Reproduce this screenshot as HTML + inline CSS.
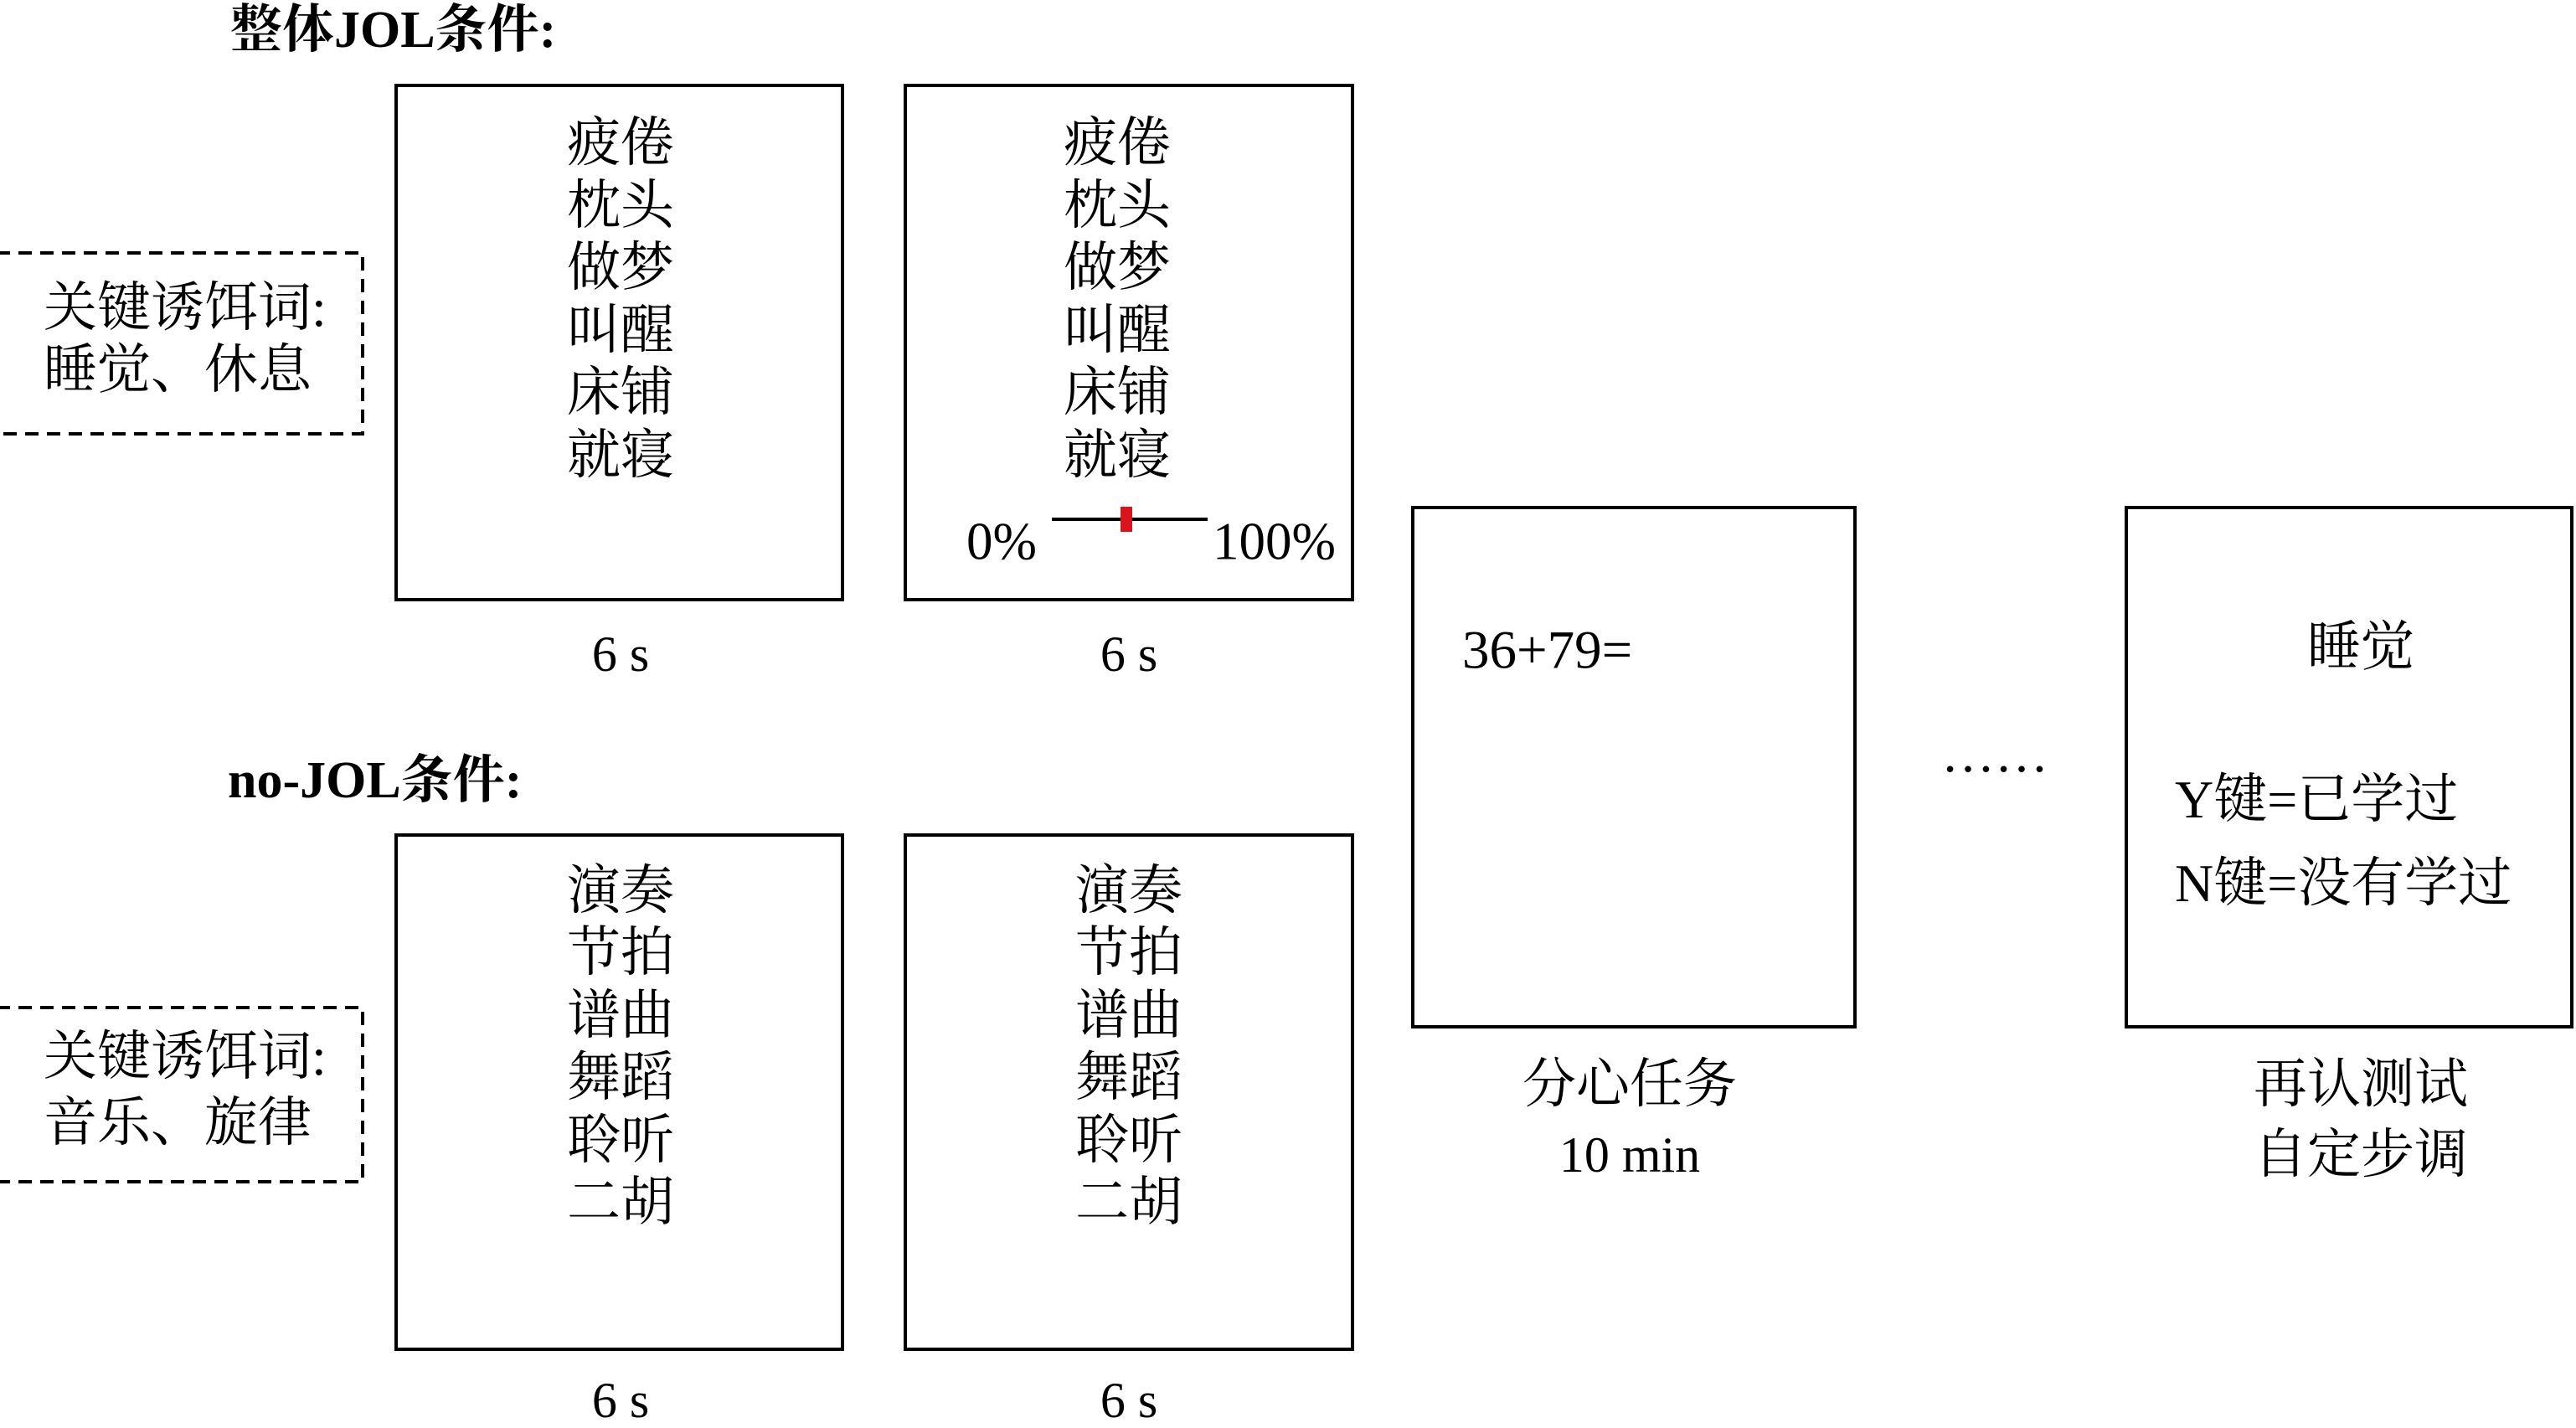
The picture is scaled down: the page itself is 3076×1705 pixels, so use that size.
<!DOCTYPE html>
<html><head><meta charset="utf-8"><style>
body{margin:0;width:3076px;height:1697px;background:#fff;position:relative;overflow:hidden;font-family:"Liberation Serif","Noto Serif CJK SC",serif;color:#000}
.b{position:absolute;border:4px solid #000;box-sizing:border-box}
.t{position:absolute;font-size:64px;line-height:1;white-space:nowrap;transform:translate(-50%,-50%)}
.l{position:absolute;font-size:64px;line-height:1;white-space:nowrap;transform:translateY(-50%)}
</style></head><body>
<div class="l" style="left:275px;top:36px;font-weight:bold;font-size:62px">整体JOL条件:</div>
<div class="l" style="left:272px;top:932px;font-weight:bold;font-size:62px">no-JOL条件:</div>

<svg style="position:absolute;left:0;top:0" width="450" height="1420">
<rect x="-4" y="302" width="437" height="216" fill="none" stroke="#000" stroke-width="4" stroke-dasharray="16,10"/>
<rect x="-4" y="1203" width="437" height="208" fill="none" stroke="#000" stroke-width="4" stroke-dasharray="16,10"/>
</svg>
<div class="l" style="left:52px;top:368px">关键诱饵词:</div>
<div class="l" style="left:52px;top:442px">睡觉、休息</div>
<div class="l" style="left:52px;top:1262px">关键诱饵词:</div>
<div class="l" style="left:52px;top:1341px">音乐、旋律</div>

<div class="b" style="left:471px;top:100px;width:537px;height:618px"></div>
<div class="b" style="left:1079px;top:100px;width:538px;height:618px"></div>
<div class="b" style="left:471px;top:995px;width:537px;height:618px"></div>
<div class="b" style="left:1079px;top:995px;width:538px;height:618px"></div>
<div class="b" style="left:1685px;top:604px;width:532px;height:624px"></div>
<div class="b" style="left:2537px;top:604px;width:536px;height:624px"></div>

<div class="t" style="left:741px;top:171px">疲倦</div>
<div class="t" style="left:741px;top:246px">枕头</div>
<div class="t" style="left:741px;top:320px">做梦</div>
<div class="t" style="left:741px;top:395px">叫醒</div>
<div class="t" style="left:741px;top:469px">床铺</div>
<div class="t" style="left:741px;top:544px">就寝</div>

<div class="t" style="left:1334px;top:171px">疲倦</div>
<div class="t" style="left:1334px;top:246px">枕头</div>
<div class="t" style="left:1334px;top:320px">做梦</div>
<div class="t" style="left:1334px;top:395px">叫醒</div>
<div class="t" style="left:1334px;top:469px">床铺</div>
<div class="t" style="left:1334px;top:544px">就寝</div>
<div class="l" style="left:1154px;top:647px;font-size:63px">0%</div>
<div class="l" style="left:1448px;top:647px;font-size:63px">100%</div>
<div style="position:absolute;left:1256px;top:618px;width:186px;height:4px;background:#000"></div>
<div style="position:absolute;left:1338px;top:605px;width:14px;height:30px;background:#d8141c"></div>

<div class="t" style="left:741px;top:1064px">演奏</div>
<div class="t" style="left:741px;top:1138px">节拍</div>
<div class="t" style="left:741px;top:1213px">谱曲</div>
<div class="t" style="left:741px;top:1287px">舞蹈</div>
<div class="t" style="left:741px;top:1362px">聆听</div>
<div class="t" style="left:741px;top:1436px">二胡</div>

<div class="t" style="left:1348px;top:1064px">演奏</div>
<div class="t" style="left:1348px;top:1138px">节拍</div>
<div class="t" style="left:1348px;top:1213px">谱曲</div>
<div class="t" style="left:1348px;top:1287px">舞蹈</div>
<div class="t" style="left:1348px;top:1362px">聆听</div>
<div class="t" style="left:1348px;top:1436px">二胡</div>

<div class="t" style="left:741px;top:781px;font-size:60px">6 s</div>
<div class="t" style="left:1348px;top:781px;font-size:60px">6 s</div>
<div class="t" style="left:741px;top:1672px;font-size:60px">6 s</div>
<div class="t" style="left:1348px;top:1672px;font-size:60px">6 s</div>

<div class="l" style="left:1746px;top:777px;font-size:65px">36+79=</div>
<div class="l" style="left:2318px;top:900px;font-size:64px">……</div>
<div class="t" style="left:2819px;top:773px">睡觉</div>
<div class="l" style="left:2597px;top:955px">Y键=已学过</div>
<div class="l" style="left:2597px;top:1055px">N键=没有学过</div>

<div class="t" style="left:1946px;top:1295px">分心任务</div>
<div class="t" style="left:1946px;top:1379px;font-size:60px">10 min</div>
<div class="t" style="left:2819px;top:1295px">再认测试</div>
<div class="t" style="left:2819px;top:1379px">自定步调</div>
</body></html>
